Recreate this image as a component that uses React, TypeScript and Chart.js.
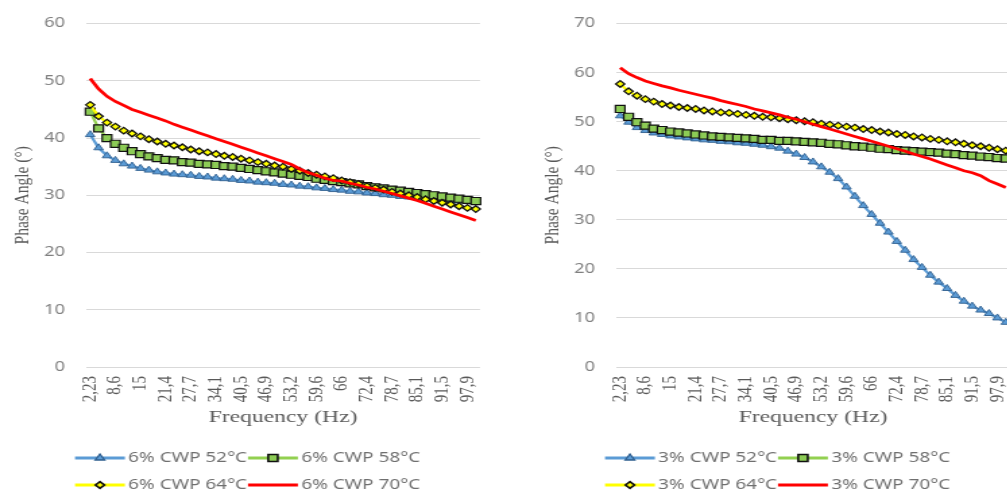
import React, { useEffect, useRef } from 'react';
import { Chart, registerables } from 'chart.js';

Chart.register(...registerables);

// Frequency categories (Hz)
const frequencies = [
  2.23, 4.36, 6.48, 8.6, 10.7, 12.9, 15, 17.1, 19.2, 21.4, 23.5, 25.6, 27.7, 29.9, 32, 34.1,
  36.2, 38.4, 40.5, 42.6, 44.7, 46.9, 49, 51.1, 53.2, 55.4, 57.5, 59.6, 61.7, 63.9, 66, 68.1,
  70.2, 72.4, 74.5, 76.6, 78.7, 80.9, 83, 85.1, 87.2, 89.4, 91.5, 93.6, 95.7, 97.9, 100,
];
const labelEvery = 3;

// 6% CWP (left chart)
const left52 = [40.6, 38.3, 36.9, 36.1, 35.5, 35.1, 34.7, 34.4, 34.1, 33.9, 33.7, 33.6, 33.5, 33.3, 33.2, 33.0, 32.9, 32.8, 32.6, 32.5, 32.3, 32.2, 32.1, 31.9, 31.8, 31.6, 31.5, 31.3, 31.2, 31.0, 30.9, 30.7, 30.6, 30.4, 30.3, 30.1, 30.0, 29.8, 29.7, 29.6, 29.4, 29.3, 29.2, 29.1, 29.0, 28.9, 28.8];
const left58 = [44.6, 41.7, 40.0, 39.0, 38.3, 37.7, 37.2, 36.8, 36.5, 36.2, 36.1, 35.8, 35.7, 35.5, 35.4, 35.3, 35.1, 35.0, 34.8, 34.6, 34.4, 34.2, 34.0, 33.8, 33.6, 33.4, 33.2, 32.9, 32.7, 32.5, 32.3, 32.1, 31.9, 31.6, 31.4, 31.2, 31.0, 30.8, 30.6, 30.4, 30.2, 30.0, 29.8, 29.6, 29.4, 29.2, 29.0];
const left64 = [45.8, 43.8, 42.7, 42.0, 41.3, 40.8, 40.3, 39.8, 39.4, 39.0, 38.7, 38.4, 38.0, 37.7, 37.5, 37.2, 36.9, 36.7, 36.4, 36.1, 35.8, 35.5, 35.2, 35.0, 34.6, 34.3, 33.9, 33.6, 33.3, 33.0, 32.6, 32.3, 32.0, 31.6, 31.3, 31.0, 30.6, 30.3, 30.0, 29.7, 29.3, 29.0, 28.7, 28.4, 28.1, 27.8, 27.6];
const left70 = [50.4, 48.6, 47.3, 46.4, 45.7, 45.0, 44.5, 44.0, 43.5, 43.0, 42.4, 41.9, 41.4, 40.9, 40.4, 39.9, 39.4, 38.9, 38.4, 37.9, 37.4, 36.9, 36.4, 35.9, 35.4, 34.6, 34.0, 33.5, 33.0, 32.6, 32.5, 32.1, 31.8, 31.4, 31.1, 30.7, 30.3, 29.9, 29.5, 29.1, 28.6, 28.1, 27.6, 27.1, 26.6, 26.1, 25.6];

// 3% CWP (right chart)
const right52 = [51.2, 49.9, 48.8, 48.2, 47.7, 47.4, 47.1, 46.9, 46.7, 46.5, 46.3, 46.2, 46.0, 45.9, 45.7, 45.6, 45.4, 45.2, 44.9, 44.6, 44.0, 43.4, 42.7, 41.8, 40.8, 39.7, 38.4, 36.7, 34.8, 32.9, 31.1, 29.3, 27.5, 25.6, 23.8, 21.9, 20.3, 18.7, 17.3, 16.0, 14.6, 13.4, 12.4, 11.6, 10.9, 10.0, 9.1];
const right58 = [52.6, 51.0, 49.9, 49.2, 48.6, 48.3, 48.0, 47.8, 47.6, 47.4, 47.2, 47.0, 46.9, 46.8, 46.7, 46.6, 46.5, 46.3, 46.3, 46.1, 46.1, 46.0, 45.9, 45.8, 45.7, 45.5, 45.4, 45.2, 45.0, 44.9, 44.7, 44.5, 44.4, 44.2, 44.1, 44.0, 43.9, 43.8, 43.7, 43.5, 43.4, 43.2, 43.1, 42.9, 42.8, 42.6, 42.5];
const right64 = [57.7, 56.2, 55.3, 54.6, 54.1, 53.6, 53.3, 53.0, 52.8, 52.6, 52.3, 52.1, 51.9, 51.8, 51.6, 51.4, 51.2, 51.0, 50.9, 50.7, 50.5, 50.3, 50.1, 49.9, 49.6, 49.4, 49.2, 49.0, 48.8, 48.5, 48.3, 48.0, 47.8, 47.5, 47.3, 47.0, 46.8, 46.5, 46.3, 46.0, 45.8, 45.5, 45.2, 45.0, 44.7, 44.4, 44.1];
const right70 = [61.0, 59.8, 59.0, 58.3, 57.8, 57.3, 56.9, 56.4, 56.0, 55.6, 55.2, 54.8, 54.3, 53.9, 53.5, 53.1, 52.6, 52.2, 51.8, 51.4, 50.9, 50.5, 50.0, 49.5, 49.0, 48.5, 48.0, 47.5, 47.0, 46.5, 46.0, 45.5, 45.0, 44.5, 44.0, 43.4, 42.9, 42.4, 41.8, 41.2, 40.6, 40.0, 39.6, 39.0, 38.0, 37.3, 36.6];

const leftSeriesNames = ['6% CWP 52°C', '6% CWP 58°C', '6% CWP 64°C', '6% CWP 70°C'];
const rightSeriesNames = ['3% CWP 52°C', '3% CWP 58°C', '3% CWP 64°C', '3% CWP 70°C'];

const leftYMax = 60;
const rightYMax = 70;
const yStep = 10;

// layout (canvas drawn narrower and stretched horizontally, like the reference)
const PANEL_W = 530;
const LOGICAL_W = 393;
const PANEL_H = 492;

function drawMarker(ctx: CanvasRenderingContext2D, style: string, x: number, y: number, r: number, fill: string, stroke: string, bw: number) {
  ctx.beginPath();
  if (style === 'triangle') {
    let rad = 0;
    ctx.moveTo(x + Math.sin(rad) * r, y - Math.cos(rad) * r);
    rad += (2 * Math.PI) / 3;
    ctx.lineTo(x + Math.sin(rad) * r, y - Math.cos(rad) * r);
    rad += (2 * Math.PI) / 3;
    ctx.lineTo(x + Math.sin(rad) * r, y - Math.cos(rad) * r);
    ctx.closePath();
  } else if (style === 'rect') {
    const s = Math.SQRT1_2 * r;
    ctx.rect(x - s, y - s, 2 * s, 2 * s);
  } else if (style === 'rectRot') {
    ctx.moveTo(x - r, y);
    ctx.lineTo(x, y - r);
    ctx.lineTo(x + r, y);
    ctx.lineTo(x, y + r);
    ctx.closePath();
  }
  ctx.fillStyle = fill;
  ctx.fill();
  ctx.lineWidth = bw;
  ctx.strokeStyle = stroke;
  ctx.stroke();
}

const legendPlugin = {
  id: 'excelLegend',
  afterDraw(chart: any) {
    const ctx: CanvasRenderingContext2D = chart.ctx;
    chart.data.datasets.forEach((ds: any, i: number) => {
      const col = i % 2;
      const row = Math.floor(i / 2);
      const x0 = 55.6 + col * 128.3;
      const y = 458 + row * 27;
      ctx.save();
      ctx.strokeStyle = ds.borderColor;
      ctx.lineWidth = 3;
      ctx.beginPath();
      ctx.moveTo(x0, y);
      ctx.lineTo(x0 + 37, y);
      ctx.stroke();
      if (ds.pointRadius > 0) {
        drawMarker(ctx, ds.pointStyle, x0 + 18.5, y, ds.pointRadius, ds.pointBackgroundColor, ds.pointBorderColor, ds.pointBorderWidth + 0.4);
      }
      ctx.fillStyle = '#6f6f6f';
      ctx.font = '14px "Noto Sans"';
      ctx.textBaseline = 'middle';
      ctx.textAlign = 'left';
      ctx.fillText(ds.label, x0 + 39.5, y);
      ctx.restore();
    });
  },
};

function buildDatasets(names: string[], s52: number[], s58: number[], s64: number[], s70: number[]) {
  return [
    {
      label: names[0], data: s52, order: 3,
      borderColor: '#5B9BD5', backgroundColor: '#5B9BD5', borderWidth: 2.25,
      pointStyle: 'triangle', pointRadius: 4, pointBackgroundColor: '#5B9BD5',
      pointBorderColor: '#2F5F8F', pointBorderWidth: 0.9,
    },
    {
      label: names[1], data: s58, order: 2,
      borderColor: '#92D050', backgroundColor: '#92D050', borderWidth: 2.25,
      pointStyle: 'rect', pointRadius: 5, pointBackgroundColor: '#8CCB55',
      pointBorderColor: '#111111', pointBorderWidth: 1.2,
    },
    {
      label: names[2], data: s64, order: 1,
      borderColor: '#FFFF00', backgroundColor: '#FFFF00', borderWidth: 2.25,
      pointStyle: 'rectRot', pointRadius: 3.3, pointBackgroundColor: '#FFFF00',
      pointBorderColor: '#111111', pointBorderWidth: 1.3,
    },
    {
      label: names[3], data: s70, order: 0,
      borderColor: '#FF0000', backgroundColor: '#FF0000', borderWidth: 2.75,
      pointStyle: 'circle', pointRadius: 0, pointBackgroundColor: '#FF0000',
      pointBorderColor: '#FF0000', pointBorderWidth: 0,
    },
  ];
}

function ChartPanel(props: { names: string[]; s52: number[]; s58: number[]; s64: number[]; s70: number[]; yMax: number; left: number }) {
  const ref = useRef<HTMLCanvasElement | null>(null);
  useEffect(() => {
    if (!ref.current) return;
    const fmt = (f: number) => String(f).replace('.', ',');
    const chart = new Chart(ref.current, {
      type: 'line',
      data: {
        labels: frequencies.map(fmt),
        datasets: buildDatasets(props.names, props.s52, props.s58, props.s64, props.s70) as any,
      },
      plugins: [legendPlugin],
      options: {
        responsive: false,
        animation: false,
        devicePixelRatio: 1,
        events: [],
        layout: { padding: { left: 8, right: 37.1, top: 22, bottom: 64 } },
        plugins: { legend: { display: false }, tooltip: { enabled: false } },
        elements: { line: { tension: 0 } },
        scales: {
          x: {
            type: 'category',
            offset: true,
            grid: { display: false, drawTicks: false },
            border: { display: false },
            ticks: {
              autoSkip: false,
              maxRotation: 90,
              minRotation: 90,
              padding: 9,
              color: '#595959',
              font: { family: '"Liberation Serif", serif', size: 15 },
              callback: (_v: any, i: number) => (i % labelEvery === 0 ? fmt(frequencies[i]) : ''),
            },
            title: {
              display: true,
              text: 'Frequency (Hz)',
              color: '#595959',
              font: { family: '"Liberation Serif", serif', size: 17.5 },
              padding: 0,
            },
            afterFit: (s: any) => { s.height = 61; },
          },
          y: {
            min: 0,
            max: props.yMax,
            grid: { color: '#d9d9d9', lineWidth: 1, drawTicks: false },
            border: { display: false },
            ticks: {
              stepSize: yStep,
              padding: 15.5,
              color: '#7f7f7f',
              font: { family: '"Noto Sans", sans-serif', size: 13.5 },
            },
            title: {
              display: true,
              text: 'Phase Angle (°)',
              color: '#595959',
              font: { family: '"Liberation Serif", serif', size: 15.5 },
              padding: 0,
            },
            afterFit: (s: any) => { s.width = 55.77; },
          },
        },
      } as any,
    });
    return () => chart.destroy();
  }, []);
  return (
    <canvas
      ref={ref}
      width={LOGICAL_W}
      height={PANEL_H}
      style={{ position: 'absolute', left: props.left, top: 0, width: PANEL_W + 'px', height: PANEL_H + 'px' }}
    />
  );
}

export default function App() {
  return (
    <div style={{ position: 'absolute', left: 0, top: 0, width: 1007, height: 492, overflow: 'hidden', background: '#ffffff' }}>
      <ChartPanel names={leftSeriesNames} s52={left52} s58={left58} s64={left64} s70={left70} yMax={leftYMax} left={0} />
      <ChartPanel names={rightSeriesNames} s52={right52} s58={right58} s64={right64} s70={right70} yMax={rightYMax} left={530} />
    </div>
  );
}
